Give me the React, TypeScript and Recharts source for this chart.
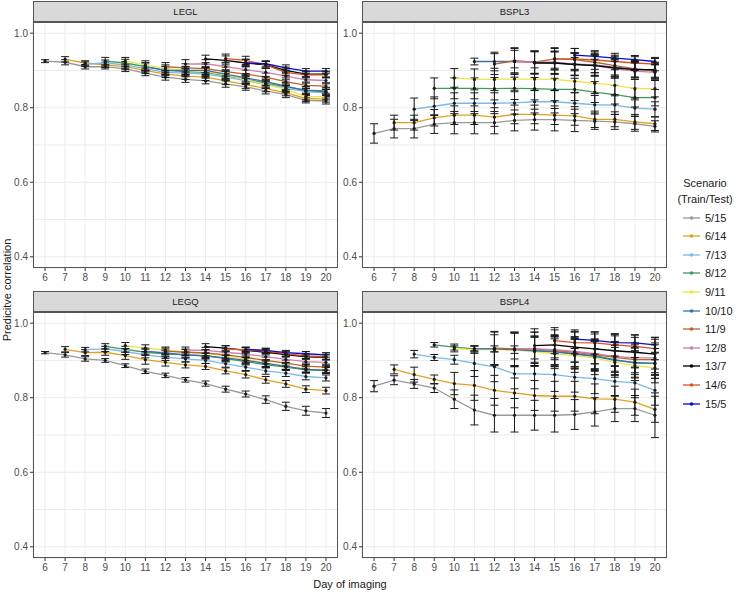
import { LineChart, Line, XAxis, YAxis, CartesianGrid, ErrorBar } from "recharts";

const days = [6, 7, 8, 9, 10, 11, 12, 13, 14, 15, 16, 17, 18, 19, 20];
const yTicks = [0.4, 0.5, 0.6, 0.7, 0.8, 0.9, 1.0];
const scenarios = ["5/15", "6/14", "7/13", "8/12", "9/11", "10/10", "11/9", "12/8", "13/7", "14/6", "15/5"];
const colors = ["#999999", "#E0A21E", "#7DB8E8", "#3F9A62", "#EEE54A", "#3A70B2", "#B8652A", "#CC7FAE", "#000000", "#D9541E", "#0A0ACC"];

// series i starts at day 6 + i
const leglMeans = [
  [0.925, 0.922, 0.91, 0.91, 0.904, 0.893, 0.882, 0.876, 0.872, 0.864, 0.856, 0.845, 0.835, 0.82, 0.818],
  [0.93, 0.92, 0.915, 0.91, 0.9, 0.89, 0.885, 0.882, 0.872, 0.862, 0.852, 0.84, 0.825, 0.823],
  [0.917, 0.92, 0.915, 0.905, 0.895, 0.893, 0.89, 0.882, 0.873, 0.862, 0.852, 0.843, 0.84],
  [0.925, 0.92, 0.91, 0.9, 0.897, 0.895, 0.886, 0.877, 0.866, 0.856, 0.847, 0.845],
  [0.925, 0.915, 0.905, 0.9, 0.897, 0.888, 0.876, 0.862, 0.85, 0.83, 0.83],
  [0.91, 0.9, 0.9, 0.9, 0.89, 0.88, 0.87, 0.858, 0.846, 0.843],
  [0.91, 0.907, 0.905, 0.897, 0.89, 0.882, 0.87, 0.86, 0.858],
  [0.917, 0.918, 0.91, 0.902, 0.895, 0.885, 0.875, 0.873],
  [0.931, 0.927, 0.92, 0.915, 0.9, 0.89, 0.89],
  [0.932, 0.927, 0.915, 0.895, 0.888, 0.888],
  [0.92, 0.918, 0.907, 0.898, 0.898],
];
const leglErrs = [
  [0.004, 0.007, 0.006, 0.006, 0.007, 0.007, 0.008, 0.008, 0.008, 0.009, 0.009, 0.008, 0.008, 0.007, 0.008],
  [0.007, 0.006, 0.007, 0.008, 0.008, 0.009, 0.009, 0.009, 0.01, 0.01, 0.009, 0.008, 0.008, 0.008],
  [0.006, 0.008, 0.009, 0.009, 0.009, 0.01, 0.01, 0.01, 0.011, 0.01, 0.009, 0.009, 0.009],
  [0.01, 0.01, 0.01, 0.01, 0.01, 0.011, 0.011, 0.011, 0.01, 0.01, 0.01, 0.01],
  [0.01, 0.011, 0.01, 0.01, 0.011, 0.011, 0.011, 0.01, 0.01, 0.009, 0.009],
  [0.011, 0.011, 0.011, 0.011, 0.012, 0.011, 0.01, 0.01, 0.01, 0.01],
  [0.011, 0.011, 0.011, 0.012, 0.011, 0.011, 0.01, 0.009, 0.009],
  [0.012, 0.011, 0.012, 0.011, 0.011, 0.01, 0.009, 0.009],
  [0.01, 0.012, 0.01, 0.009, 0.009, 0.008, 0.008],
  [0.012, 0.011, 0.009, 0.009, 0.008, 0.008],
  [0.01, 0.008, 0.008, 0.007, 0.007],
];

const bspl3Means = [
  [0.731, 0.744, 0.744, 0.756, 0.76, 0.76, 0.76, 0.766, 0.768, 0.768, 0.766, 0.764, 0.762, 0.757, 0.75],
  [0.76, 0.76, 0.773, 0.78, 0.78, 0.775, 0.782, 0.782, 0.78, 0.778, 0.769, 0.769, 0.762, 0.757],
  [0.796, 0.804, 0.812, 0.812, 0.812, 0.813, 0.816, 0.816, 0.812, 0.808, 0.807, 0.799, 0.796],
  [0.852, 0.852, 0.852, 0.851, 0.852, 0.851, 0.849, 0.849, 0.842, 0.835, 0.827, 0.827],
  [0.88, 0.876, 0.876, 0.877, 0.877, 0.876, 0.871, 0.866, 0.86, 0.851, 0.851],
  [0.924, 0.924, 0.924, 0.922, 0.92, 0.917, 0.915, 0.908, 0.904, 0.9],
  [0.917, 0.926, 0.922, 0.931, 0.929, 0.922, 0.913, 0.904, 0.898],
  [0.924, 0.922, 0.922, 0.917, 0.913, 0.904, 0.898, 0.895],
  [0.92, 0.92, 0.916, 0.913, 0.907, 0.902, 0.902],
  [0.931, 0.931, 0.928, 0.924, 0.92, 0.917],
  [0.941, 0.938, 0.933, 0.929, 0.924],
];
const bspl3Errs = [
  [0.026, 0.025, 0.025, 0.025, 0.03, 0.03, 0.03, 0.028, 0.028, 0.03, 0.03, 0.022, 0.02, 0.02, 0.015],
  [0.02, 0.02, 0.022, 0.025, 0.025, 0.025, 0.025, 0.025, 0.025, 0.025, 0.022, 0.02, 0.02, 0.018],
  [0.03, 0.025, 0.028, 0.028, 0.028, 0.03, 0.03, 0.03, 0.028, 0.025, 0.025, 0.022, 0.02],
  [0.028, 0.028, 0.028, 0.03, 0.03, 0.03, 0.03, 0.03, 0.028, 0.025, 0.025, 0.022],
  [0.025, 0.028, 0.03, 0.03, 0.03, 0.03, 0.03, 0.028, 0.025, 0.025, 0.022],
  [0.009, 0.025, 0.03, 0.03, 0.03, 0.03, 0.028, 0.025, 0.022, 0.02],
  [0.028, 0.035, 0.03, 0.03, 0.03, 0.028, 0.025, 0.022, 0.02],
  [0.035, 0.03, 0.03, 0.03, 0.028, 0.025, 0.022, 0.02],
  [0.03, 0.03, 0.03, 0.028, 0.025, 0.022, 0.02],
  [0.028, 0.028, 0.025, 0.022, 0.02, 0.018],
  [0.006, 0.008, 0.008, 0.008, 0.008],
];

const legqMeans = [
  [0.921, 0.915, 0.904, 0.9, 0.886, 0.871, 0.86, 0.848, 0.838, 0.823, 0.81, 0.795, 0.777, 0.765, 0.759],
  [0.93, 0.921, 0.922, 0.913, 0.902, 0.895, 0.888, 0.884, 0.872, 0.862, 0.848, 0.837, 0.823, 0.819],
  [0.929, 0.931, 0.924, 0.915, 0.908, 0.904, 0.9, 0.891, 0.882, 0.872, 0.866, 0.857, 0.853],
  [0.938, 0.93, 0.922, 0.918, 0.915, 0.913, 0.905, 0.897, 0.889, 0.882, 0.875, 0.873],
  [0.94, 0.933, 0.928, 0.922, 0.92, 0.912, 0.903, 0.893, 0.885, 0.877, 0.876],
  [0.925, 0.92, 0.915, 0.912, 0.907, 0.9, 0.892, 0.884, 0.876, 0.874],
  [0.925, 0.922, 0.92, 0.915, 0.908, 0.9, 0.893, 0.885, 0.882],
  [0.928, 0.927, 0.922, 0.917, 0.91, 0.903, 0.897, 0.895],
  [0.937, 0.933, 0.927, 0.922, 0.916, 0.91, 0.908],
  [0.932, 0.928, 0.925, 0.918, 0.912, 0.91],
  [0.93, 0.927, 0.921, 0.918, 0.915],
];
const legqErrs = [
  [0.003, 0.006, 0.006, 0.005, 0.005, 0.006, 0.006, 0.006, 0.007, 0.008, 0.008, 0.01, 0.011, 0.012, 0.012],
  [0.007, 0.008, 0.008, 0.01, 0.012, 0.01, 0.008, 0.008, 0.008, 0.009, 0.009, 0.009, 0.009, 0.009],
  [0.006, 0.007, 0.008, 0.008, 0.008, 0.008, 0.008, 0.009, 0.009, 0.009, 0.009, 0.009, 0.008],
  [0.007, 0.008, 0.008, 0.008, 0.008, 0.008, 0.009, 0.009, 0.009, 0.009, 0.008, 0.008],
  [0.008, 0.009, 0.008, 0.008, 0.008, 0.009, 0.009, 0.009, 0.009, 0.008, 0.008],
  [0.008, 0.008, 0.008, 0.008, 0.009, 0.009, 0.009, 0.008, 0.008, 0.008],
  [0.008, 0.008, 0.008, 0.009, 0.009, 0.009, 0.008, 0.008, 0.008],
  [0.008, 0.008, 0.009, 0.009, 0.009, 0.008, 0.008, 0.008],
  [0.008, 0.007, 0.007, 0.007, 0.007, 0.007, 0.007],
  [0.007, 0.007, 0.007, 0.007, 0.007, 0.007],
  [0.006, 0.006, 0.006, 0.006, 0.006],
];

const bspl4Means = [
  [0.831, 0.847, 0.837, 0.826, 0.796, 0.767, 0.753, 0.753, 0.753, 0.753, 0.755, 0.762, 0.771, 0.771, 0.753],
  [0.876, 0.862, 0.849, 0.838, 0.833, 0.82, 0.813, 0.806, 0.804, 0.804, 0.797, 0.796, 0.788, 0.769],
  [0.917, 0.908, 0.902, 0.892, 0.883, 0.864, 0.864, 0.862, 0.855, 0.851, 0.844, 0.84, 0.82],
  [0.942, 0.936, 0.931, 0.931, 0.929, 0.927, 0.924, 0.918, 0.913, 0.902, 0.893, 0.892],
  [0.931, 0.929, 0.929, 0.928, 0.924, 0.918, 0.913, 0.907, 0.895, 0.886, 0.88],
  [0.931, 0.931, 0.929, 0.926, 0.923, 0.917, 0.911, 0.9, 0.895, 0.892],
  [0.933, 0.931, 0.931, 0.927, 0.922, 0.916, 0.908, 0.902, 0.902],
  [0.931, 0.931, 0.929, 0.924, 0.918, 0.911, 0.907, 0.907],
  [0.94, 0.942, 0.936, 0.931, 0.926, 0.922, 0.917],
  [0.953, 0.948, 0.947, 0.942, 0.938, 0.932],
  [0.957, 0.954, 0.948, 0.947, 0.942],
];
const bspl4Errs = [
  [0.015, 0.012, 0.012, 0.012, 0.025, 0.04, 0.045, 0.045, 0.04, 0.045, 0.04, 0.038, 0.035, 0.035, 0.06],
  [0.012, 0.02, 0.012, 0.03, 0.04, 0.04, 0.04, 0.04, 0.04, 0.04, 0.04, 0.035, 0.035, 0.035],
  [0.01, 0.008, 0.012, 0.035, 0.04, 0.04, 0.04, 0.045, 0.04, 0.04, 0.04, 0.04, 0.04],
  [0.006, 0.008, 0.008, 0.008, 0.01, 0.035, 0.04, 0.04, 0.04, 0.04, 0.04, 0.04],
  [0.008, 0.01, 0.04, 0.045, 0.04, 0.04, 0.045, 0.045, 0.04, 0.04, 0.04],
  [0.008, 0.045, 0.045, 0.04, 0.04, 0.04, 0.04, 0.04, 0.04, 0.04],
  [0.045, 0.045, 0.045, 0.04, 0.04, 0.04, 0.04, 0.04, 0.04],
  [0.045, 0.045, 0.04, 0.04, 0.04, 0.04, 0.04, 0.04],
  [0.045, 0.04, 0.04, 0.04, 0.04, 0.04, 0.04],
  [0.035, 0.03, 0.03, 0.03, 0.03, 0.03],
  [0.025, 0.022, 0.022, 0.022, 0.02],
];

const FONT = "Arial, 'Liberation Sans', Helvetica, sans-serif";
const PW = 305;
const PH = 246;
const YW = 33;
const XH = 22;

function buildRows(means: number[][], errs: number[][]) {
  return days.map((d) => {
    const row: Record<string, number> = { day: d };
    means.forEach((m, i) => {
      const j = d - days[0] - i;
      if (j >= 0 && j < m.length) {
        row[`m${i}`] = m[j];
        row[`e${i}`] = errs[i][j];
      }
    });
    return row;
  });
}

const YTick = (props: any) => {
  const { y, payload } = props;
  const v = payload.value as number;
  if (Math.round(v * 10) % 2 !== 0) return <g />;
  return (
    <g>
      <line x1={YW - 3} x2={YW} y1={y} y2={y} stroke="#333" />
      <text x={YW - 5} y={y} dy={3.5} textAnchor="end" fontSize={10} fill="#4D4D4D">
        {v.toFixed(1)}
      </text>
    </g>
  );
};

function Panel({ title, means, errs, left, top }: { title: string; means: number[][]; errs: number[][]; left: number; top: number }) {
  const data = buildRows(means, errs);
  return (
    <>
      <div
        style={{
          position: "absolute",
          left,
          top: top - 21,
          width: PW,
          height: 21,
          boxSizing: "border-box",
          background: "#D9D9D9",
          border: "1px solid #555",
          fontSize: 9.5,
          color: "#1A1A1A",
          textAlign: "center",
          lineHeight: "20px",
        }}
      >
        {title}
      </div>
      <div style={{ position: "absolute", left: left - YW, top }}>
        <LineChart width={YW + PW} height={PH + XH} data={data} margin={{ top: 0, right: 0, bottom: 0, left: 0 }}>
          <CartesianGrid stroke="#EBEBEB" />
          <XAxis
            dataKey="day"
            type="number"
            domain={[5.4, 20.6]}
            ticks={days}
            interval={0}
            axisLine={false}
            tickSize={3}
            tickMargin={3}
            tickLine={{ stroke: "#333" }}
            tick={{ fontSize: 10, fill: "#4D4D4D" }}
            height={XH}
          />
          <YAxis domain={[0.37, 1.03]} ticks={yTicks} interval={0} width={YW} axisLine={false} tickLine={false} tick={YTick} />
          {means.map((_, i) => (
            <Line
              key={i}
              dataKey={`m${i}`}
              stroke={colors[i]}
              strokeWidth={1.3}
              dot={{ r: 1.6, fill: "#1A1A1A", stroke: "none" }}
              isAnimationActive={false}
            >
              <ErrorBar dataKey={`e${i}`} width={4} stroke="#1A1A1A" strokeWidth={1} direction="y" />
            </Line>
          ))}
        </LineChart>
      </div>
      <div
        style={{
          position: "absolute",
          left,
          top,
          width: PW,
          height: PH,
          boxSizing: "border-box",
          border: "1px solid #555",
          pointerEvents: "none",
        }}
      />
    </>
  );
}

export default function App() {
  return (
    <div style={{ position: "absolute", left: 0, top: 0, width: 742, height: 592, background: "#fff", fontFamily: FONT }}>
      <Panel title="LEGL" means={leglMeans} errs={leglErrs} left={33} top={22} />
      <Panel title="BSPL3" means={bspl3Means} errs={bspl3Errs} left={362} top={22} />
      <Panel title="LEGQ" means={legqMeans} errs={legqErrs} left={33} top={312} />
      <Panel title="BSPL4" means={bspl4Means} errs={bspl4Errs} left={362} top={312} />

      <div
        style={{
          position: "absolute",
          left: 7,
          top: 290,
          transform: "translate(-50%, -50%) rotate(-90deg)",
          fontSize: 11,
          color: "#1A1A1A",
          whiteSpace: "nowrap",
        }}
      >
        Predicitve correlation
      </div>
      <div
        style={{
          position: "absolute",
          left: 350,
          top: 584,
          transform: "translate(-50%, -50%)",
          fontSize: 11,
          color: "#1A1A1A",
          whiteSpace: "nowrap",
        }}
      >
        Day of imaging
      </div>

      <div style={{ position: "absolute", left: 670, top: 175, width: 80, textAlign: "center", fontSize: 11, color: "#1A1A1A", lineHeight: "16px" }}>
        <div style={{ marginLeft: -10 }}>Scenario</div>
        <div style={{ marginLeft: -10 }}>(Train/Test)</div>
      </div>
      {scenarios.map((s, i) => (
        <div key={s} style={{ position: "absolute", left: 683, top: 217.5 + i * 18.6 - 8, height: 16, display: "flex", alignItems: "center" }}>
          <svg width={18} height={16}>
            <line x1={0} x2={17} y1={8} y2={8} stroke={colors[i]} strokeWidth={1.3} />
            <circle cx={8.5} cy={8} r={1.8} fill={colors[i]} />
          </svg>
          <span style={{ marginLeft: 4, fontSize: 11, color: "#1A1A1A" }}>{s}</span>
        </div>
      ))}
    </div>
  );
}
